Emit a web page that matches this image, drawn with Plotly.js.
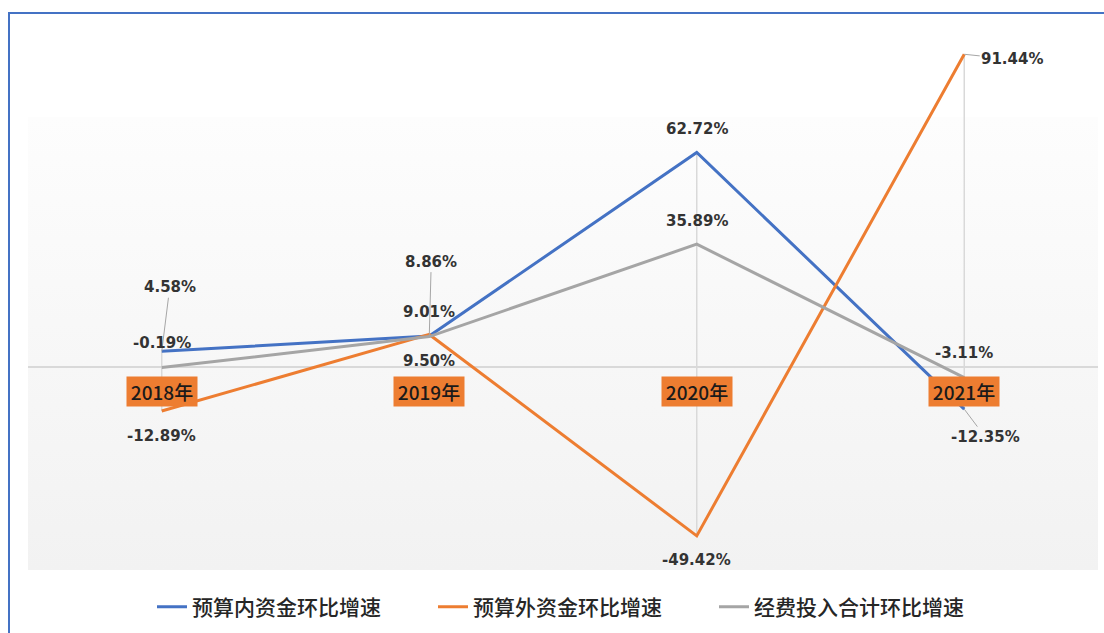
<!DOCTYPE html>
<html><head><meta charset="utf-8">
<script src="https://cdn.plot.ly/plotly-3.0.1.min.js"></script>
<style>
html,body{margin:0;padding:0;background:#fff;width:1104px;height:633px;overflow:hidden;}
#frame{position:absolute;left:8px;top:12px;width:1200px;height:700px;border-left:2px solid #4472c4;border-top:2px solid #4472c4;}
#bg{position:absolute;left:28px;top:117px;width:1070px;height:453px;background:linear-gradient(#fdfdfd,#f2f2f2);}
#chart{position:absolute;left:0;top:0;width:1104px;height:633px;}
</style></head><body>
<div id="frame"></div><div id="bg"></div><div id="chart"></div>
<script>
// ---- data ----
const categories = ['2018年', '2019年', '2020年', '2021年'];
const seriesNames = ['预算内资金环比增速', '预算外资金环比增速', '经费投入合计环比增速'];
const inBudgetGrowth = [4.58, 9.01, 62.72, -12.35];
const outBudgetGrowth = [-12.89, 9.50, -49.42, 91.44];
const totalGrowth = [-0.19, 8.86, 35.89, -3.11];

// ---- style ----
const colors = ['#4472c4', '#ed7d31', '#a5a5a5'];
const allSeries = [inBudgetGrowth, outBudgetGrowth, totalGrowth];
// label placement per series / category (pixels)
const placements = [
  [{ax: 8, ay: -64}, {ys: 24}, {ys: 23.5}, {ax: 21, ay: 28}],
  [{ys: -25}, {ys: -26.5}, {ys: -24}, {ax: 48, ay: 5}],
  [{ys: 24.5}, {ax: 2, ay: -75}, {ys: 23}, {ys: 24.5}]
];
const labelFont = {family: 'DejaVu Sans, Verdana, sans-serif', size: 15, color: '#333333', weight: 'bold'};

const traces = allSeries.map((vals, i) => ({
  type: 'scatter', mode: 'lines', name: seriesNames[i],
  x: categories, y: vals,
  line: {color: colors[i], width: 3},
  hoverinfo: 'skip'
}));

const annotations = [];
allSeries.forEach((vals, i) => {
  vals.forEach((v, j) => {
    const p = placements[i][j];
    const a = {x: categories[j], y: v, xref: 'x', yref: 'y', text: v.toFixed(2) + '%', font: labelFont};
    if (p.ax !== undefined) {
      Object.assign(a, {showarrow: true, ax: p.ax, ay: p.ay, arrowhead: 0, arrowwidth: 1, arrowcolor: '#a6a6a6', standoff: 0, startstandoff: 0});
    } else {
      Object.assign(a, {showarrow: false, yshift: p.ys});
    }
    annotations.push(a);
  });
});
categories.forEach(c => {
  annotations.push({x: c, y: 0, xref: 'x', yref: 'y', text: c, showarrow: false, yshift: -25,
    bgcolor: '#ed7d31', width: 68, height: 27,
    font: {family: 'Noto Sans CJK SC, sans-serif', size: 19, color: '#1a1a1a', weight: 500}});
});

// high-low lines
const shapes = categories.map((c, j) => {
  const vals = allSeries.map(s => s[j]);
  return {type: 'line', xref: 'x', yref: 'y', x0: c, x1: c, y0: Math.min(...vals), y1: Math.max(...vals),
    line: {color: '#d9d9d9', width: 1.5}, layer: 'below'};
});

const layout = {
  width: 1104, height: 633,
  margin: {l: 28, r: 6, t: 25, b: 63},
  paper_bgcolor: 'rgba(0,0,0,0)', plot_bgcolor: 'rgba(0,0,0,0)',
  xaxis: {type: 'category', range: [-0.5, 3.5], showticklabels: false, showgrid: false, zeroline: false, showline: false, ticks: ''},
  yaxis: {range: [-59.4, 100], showticklabels: false, showgrid: false, zeroline: true, zerolinecolor: '#d9d9d9', zerolinewidth: 1.5, showline: false, ticks: ''},
  showlegend: true,
  legend: {orientation: 'h', xref: 'container', yref: 'container', x: 152 / 1104, xanchor: 'left', y: 1 - 607 / 633, yanchor: 'middle',
    font: {family: 'Noto Sans CJK SC, sans-serif', size: 21, color: '#262626', weight: 500},
    entrywidth: 236, entrywidthmode: 'pixels', bgcolor: 'rgba(0,0,0,0)'},
  annotations: annotations,
  shapes: shapes
};

Plotly.newPlot('chart', traces, layout, {staticPlot: true, displayModeBar: false});
</script>
</body></html>
